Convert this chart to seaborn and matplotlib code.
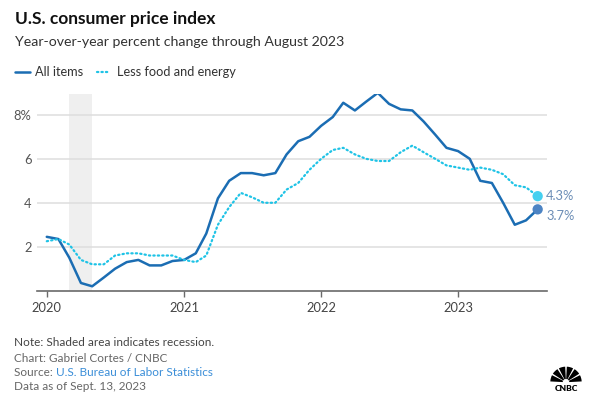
import pandas as pd
import seaborn as sns
from matplotlib import pyplot as plt
from matplotlib.patches import Wedge

# Monthly year-over-year change, Jan 2020 - Aug 2023
months = pd.date_range('2020-01-01', periods=44, freq='MS')
all_items = [2.45, 2.35, 1.5, 0.35, 0.2, 0.6, 1.0, 1.3, 1.4, 1.15, 1.15, 1.35,
             1.4, 1.7, 2.6, 4.2, 5.0, 5.35, 5.35, 5.25, 5.35, 6.2, 6.8, 7.0,
             7.5, 7.9, 8.55, 8.2, 8.6, 9.0, 8.5, 8.25, 8.2, 7.7, 7.1, 6.5,
             6.35, 6.0, 5.0, 4.9, 4.0, 3.0, 3.2, 3.7]
less_food_energy = [2.25, 2.35, 2.1, 1.4, 1.2, 1.2, 1.6, 1.7, 1.7, 1.6, 1.6, 1.6,
                    1.4, 1.3, 1.6, 3.0, 3.8, 4.45, 4.25, 4.0, 4.0, 4.6, 4.9, 5.5,
                    6.0, 6.4, 6.5, 6.2, 6.0, 5.9, 5.9, 6.3, 6.6, 6.3, 6.0, 5.7,
                    5.6, 5.5, 5.6, 5.5, 5.3, 4.8, 4.7, 4.3]
year_ticks = pd.to_datetime(['2020-01-01', '2021-01-01', '2022-01-01', '2023-01-01'])
year_labels = ['2020', '2021', '2022', '2023']
y_ticks = [2, 4, 6, 8]
y_labels = ['2', '4', '6', '8%']
recession = (pd.Timestamp('2020-03-01'), pd.Timestamp('2020-05-01'))

df = pd.DataFrame({'date': months, 'all': all_items, 'core': less_food_energy})

sns.set_style('white')
plt.rcParams['font.family'] = ['Lato', 'DejaVu Sans']

blue = '#1b6db3'
cyan = '#1fc3e6'

fig = plt.figure(figsize=(6.01, 3.97), dpi=100)
ax = fig.add_axes([0.0616, 0.2678, 0.848, 0.4955])

ax.axvspan(recession[0], recession[1], color='#efefef', lw=0, zorder=0)
for v in y_ticks:
    ax.axhline(v, color='#dedede', lw=1.1, zorder=1)

sns.lineplot(data=df, x='date', y='all', ax=ax, color=blue, lw=1.8,
             solid_joinstyle='round', zorder=3)
sns.lineplot(data=df, x='date', y='core', ax=ax, color=cyan, lw=1.6,
             linestyle=(0, (0.6, 1.4)), dash_capstyle='round', zorder=3)

last = df.iloc[[-1]]
sns.scatterplot(data=last, x='date', y='core', ax=ax, color='#45d0f0', s=55,
                edgecolor='none', zorder=4)
sns.scatterplot(data=last, x='date', y='all', ax=ax, color='#4d84c4', s=55,
                edgecolor='none', zorder=4)
ax.annotate('4.3%', (last['date'].iloc[0], less_food_energy[-1]), xytext=(6, 0),
            textcoords='offset points', va='center', fontsize=9.3, color='#6b8db6')
ax.annotate('3.7%', (last['date'].iloc[0], all_items[-1]), xytext=(6, -5),
            textcoords='offset points', va='center', fontsize=9.3, color='#6b8db6')

ax.set_xlim(pd.Timestamp('2019-12-06'), pd.Timestamp('2023-08-25'))
ax.set_ylim(0, 8.95)
ax.set_xticks(year_ticks)
ax.set_xticklabels(year_labels)
ax.set_yticks(y_ticks)
ax.set_yticklabels(y_labels)
ax.set_xlabel('')
ax.set_ylabel('')
for side in ['top', 'right', 'left']:
    ax.spines[side].set_visible(False)
ax.spines['bottom'].set_color('#6a6a6a')
ax.spines['bottom'].set_linewidth(1.2)
ax.tick_params(axis='x', length=4, width=1, color='#6a6a6a', labelsize=9.3,
               labelcolor='#444444', pad=4, bottom=True)
ax.tick_params(axis='y', length=0, labelsize=9.3, labelcolor='#555555', pad=4)

# Header
fig.text(15 / 601, 1 - 19 / 397, 'U.S. consumer price index', fontsize=12.5,
         fontweight='bold', color='#111111', va='center')
fig.text(15 / 601, 1 - 42 / 397, 'Year-over-year percent change through August 2023',
         fontsize=10.2, color='#333333', va='center')

# Legend
fig.lines.append(plt.Line2D([15 / 601, 30 / 601], [1 - 72 / 397] * 2, color=blue,
                            lw=1.8, transform=fig.transFigure))
fig.lines.append(plt.Line2D([97 / 601, 109 / 601], [1 - 72 / 397] * 2, color=cyan,
                            lw=1.6, linestyle=(0, (0.6, 1.4)), dash_capstyle='round',
                            transform=fig.transFigure))
fig.text(35 / 601, 1 - 72 / 397, 'All items', fontsize=9.2, color='#333333', va='center')
fig.text(117 / 601, 1 - 72 / 397, 'Less food and energy', fontsize=9.2,
         color='#333333', va='center')

# Footer
foot = 8.5
fig.text(14 / 601, 1 - 342 / 397, 'Note: Shaded area indicates recession.',
         fontsize=foot, color='#444444', va='center')
fig.text(14 / 601, 1 - 359 / 397, 'Chart: Gabriel Cortes / CNBC', fontsize=foot,
         color='#666666', va='center')
src = fig.text(14 / 601, 1 - 373 / 397, 'Source: ', fontsize=foot, color='#666666',
               va='center')
fig.canvas.draw()
bb = src.get_window_extent()
fig.text(bb.x1 / 601, 1 - 373 / 397, 'U.S. Bureau of Labor Statistics', fontsize=foot,
         color='#3b8ed8', va='center')
fig.text(14 / 601, 1 - 387 / 397, 'Data as of Sept. 13, 2023', fontsize=foot,
         color='#666666', va='center')

# CNBC peacock mark
logo = fig.add_axes([549 / 601, 1 - 392 / 397, 34 / 601, 26 / 397])
logo.set_xlim(-1.3, 1.3)
logo.set_ylim(-0.75, 1.25)
logo.axis('off')
for i in range(6):
    a0 = 180 - i * 30
    logo.add_patch(Wedge((0, 0), 1.2, a0 - 27, a0 - 3, width=0.95, color='black', lw=0))
logo.text(0, -0.5, 'CNBC', ha='center', va='center', fontsize=6,
          fontweight='heavy', color='black')

fig.savefig('out.png', dpi=100)
